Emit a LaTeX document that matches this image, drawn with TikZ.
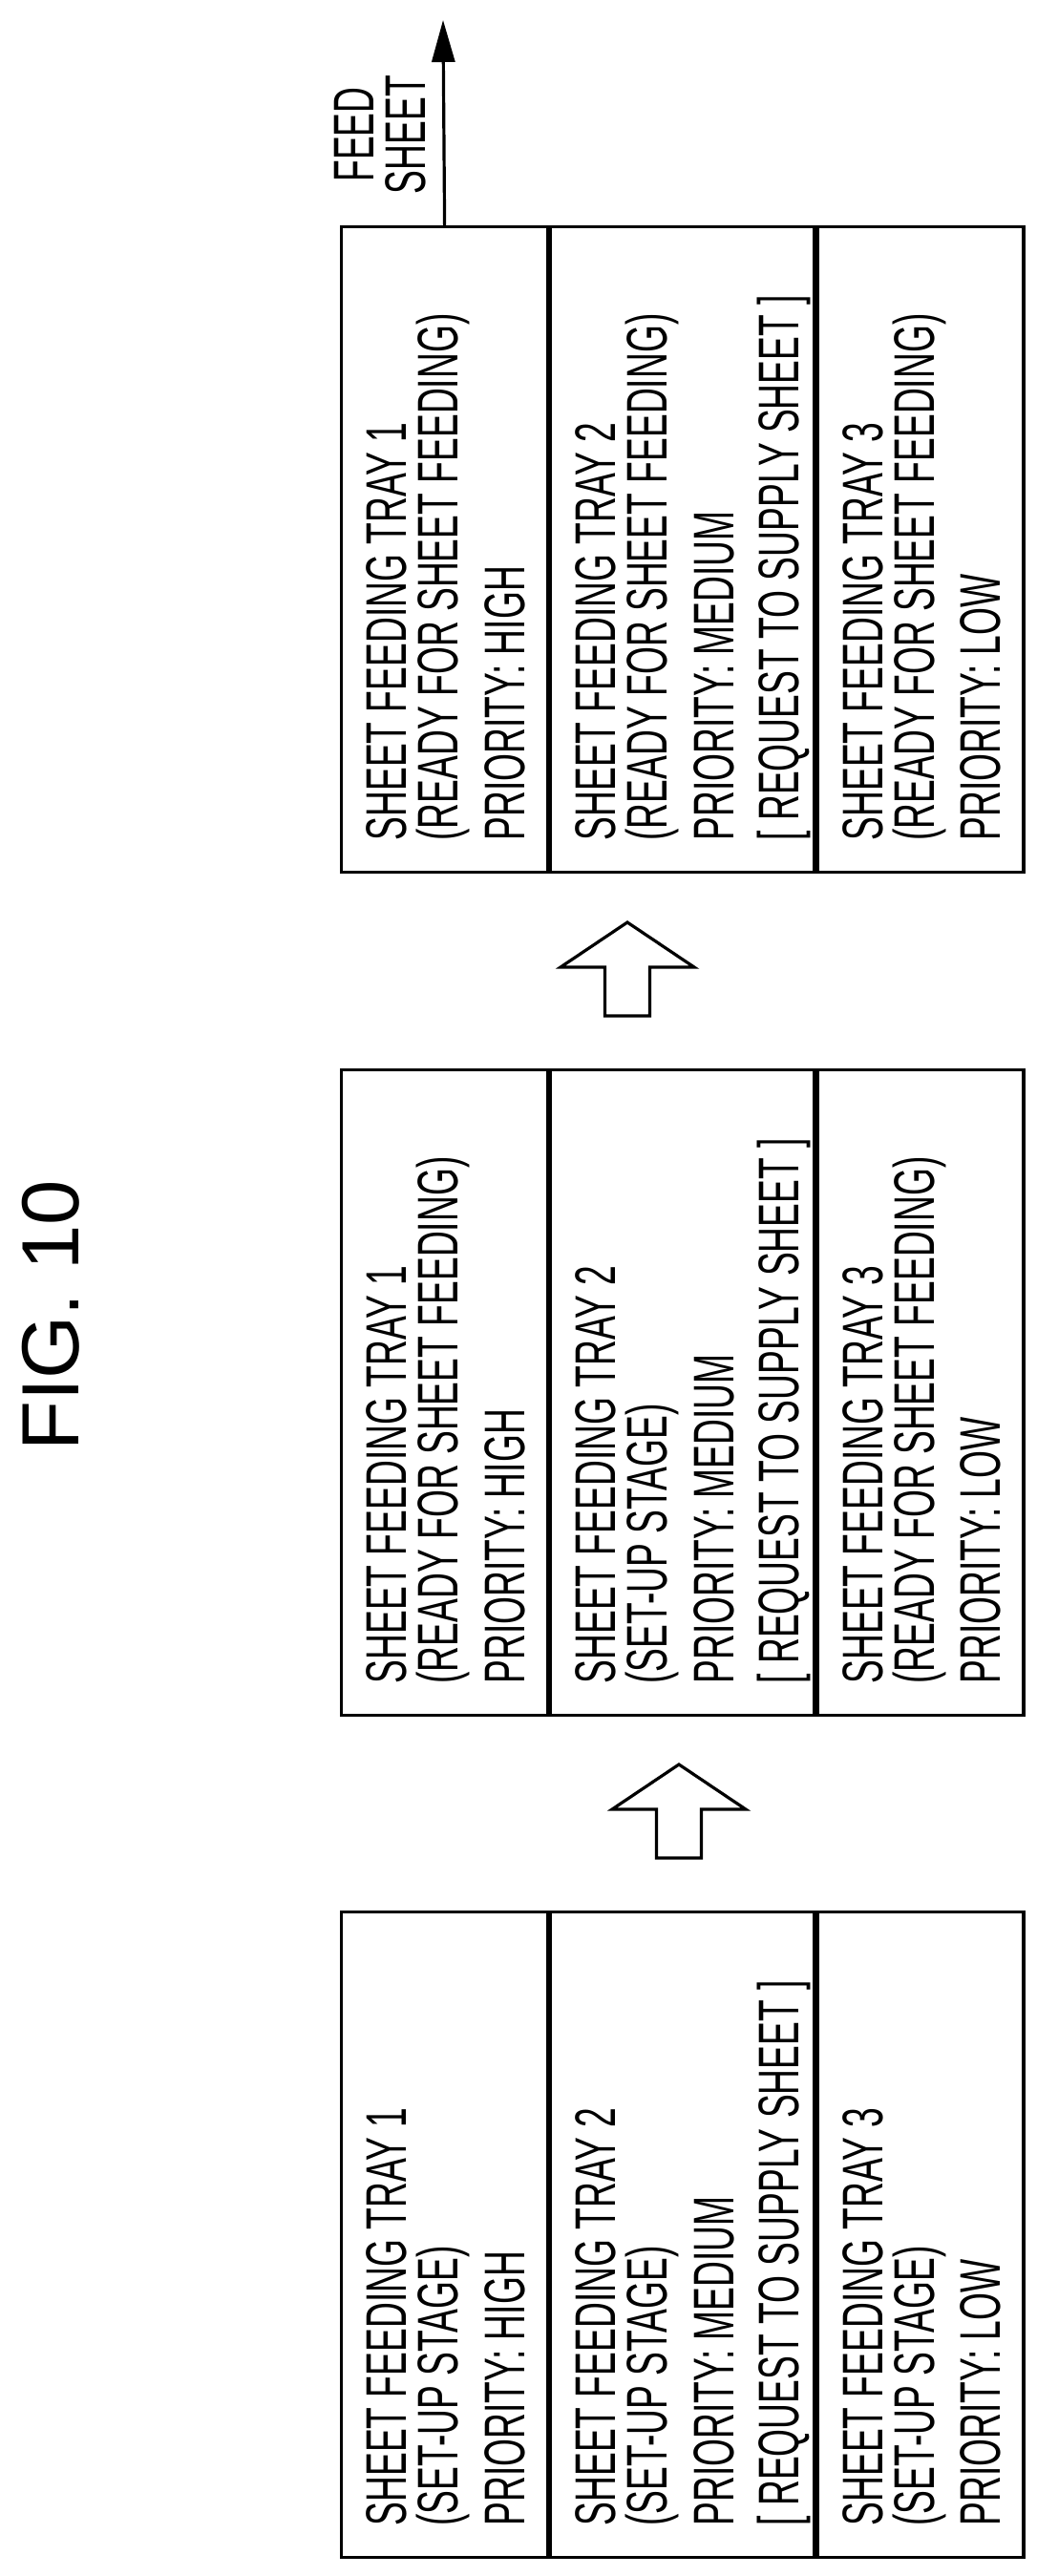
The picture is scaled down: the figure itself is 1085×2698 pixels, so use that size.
\documentclass[tikz,border=0pt]{standalone}
\usepackage{fontspec}
\setmainfont{Liberation Sans}
\newfontfamily\narrowfont{Liberation Sans}[FakeStretch=0.62]
\usetikzlibrary{arrows.meta, positioning}

\begin{document}
\begin{tikzpicture}[x=0.25pt, y=-0.25pt,
cell/.style={
	draw,
	line width=0.8pt,
	rectangle,
	inner sep=0pt,
	minimum height=169pt},
narrow/.style={cell, minimum width=54pt},
wide/.style={cell, minimum width=69pt},
txt/.style={
	rotate=90,
	anchor=north west,
	inner sep=0pt,
	align=left,
	xshift=8.5pt,
	yshift=-6.75pt,
	font=\narrowfont\fontsize{15}{13.5}\selectfont},
hollow/.style={
	draw,
	line width=0.8pt,
	fill=white},
post/.style={
	draw,
	line width=0.8pt,
	-{Triangle[length=11pt,width=6pt]}}]

\useasboundingbox (0,0) rectangle (1085,2698);

% title
\node[rotate=90, font=\fontsize{21.25}{24}\selectfont, inner sep=0pt] (title) at (53,1378) {FIG. 10};

% trays, one row of cells per stage
\foreach \s/\top in {C/236, B/1119, A/2001} {
	\node[narrow, anchor=north west] (\s1) at (356,\top) {};
	\node[wide, right = 0pt of \s1] (\s2) {};
	\node[narrow, right = 0pt of \s2] (\s3) {};
}

% set-up stage
\node[txt] at (A1.south west) {SHEET FEEDING TRAY 1\\(SET-UP STAGE)\\[2.75pt]PRIORITY: HIGH};
\node[txt] at (A2.south west) {SHEET FEEDING TRAY 2\\(SET-UP STAGE)\\[2.75pt]PRIORITY: MEDIUM\\[3.5pt][ REQUEST TO SUPPLY SHEET ]};
\node[txt] at (A3.south west) {SHEET FEEDING TRAY 3\\(SET-UP STAGE)\\[2.75pt]PRIORITY: LOW};

% tray 1 ready
\node[txt] at (B1.south west) {SHEET FEEDING TRAY 1\\(READY FOR SHEET FEEDING)\\[2.75pt]PRIORITY: HIGH};
\node[txt] at (B2.south west) {SHEET FEEDING TRAY 2\\(SET-UP STAGE)\\[2.75pt]PRIORITY: MEDIUM\\[3.5pt][ REQUEST TO SUPPLY SHEET ]};
\node[txt] at (B3.south west) {SHEET FEEDING TRAY 3\\(READY FOR SHEET FEEDING)\\[2.75pt]PRIORITY: LOW};

% all ready
\node[txt] at (C1.south west) {SHEET FEEDING TRAY 1\\(READY FOR SHEET FEEDING)\\[2.75pt]PRIORITY: HIGH};
\node[txt] at (C2.south west) {SHEET FEEDING TRAY 2\\(READY FOR SHEET FEEDING)\\[2.75pt]PRIORITY: MEDIUM\\[3.5pt][ REQUEST TO SUPPLY SHEET ]};
\node[txt] at (C3.south west) {SHEET FEEDING TRAY 3\\(READY FOR SHEET FEEDING)\\[2.75pt]PRIORITY: LOW};

% block arrows between stages
\coordinate (tipBC) at (657,966);
\coordinate (tipAB) at (711,1848);
\foreach \t in {tipBC, tipAB} {
	\draw[hollow] (\t) -- ++(-70,47) -- ++(46.5,0) -- ++(0,51) -- ++(47,0) -- ++(0,-51) -- ++(46.5,0) -- cycle;
}

% sheet out
\coordinate (out) at (464,21);
\path[post] (C1.north) -- (out);
\node[rotate=90, align=center, inner sep=0pt, font=\narrowfont\fontsize{15}{13.5}\selectfont] (feed) at (398,141) {FEED\\SHEET};
\end{tikzpicture}
\end{document}
